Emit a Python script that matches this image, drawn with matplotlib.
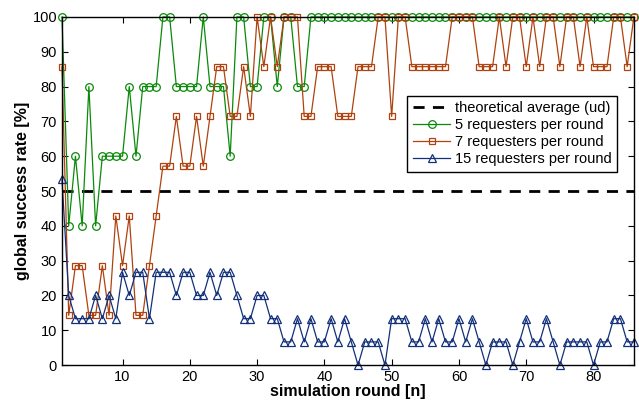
import matplotlib.pyplot as plt
import numpy as np

plt.rcParams['font.family'] = ['Liberation Sans', 'DejaVu Sans']

rounds = np.arange(1, 87)

# success rate with 5 requesters per round (k/5)
req5 = [100, 40, 60, 40, 80, 40, 60, 60, 60, 60,
        80, 60, 80, 80, 80, 100, 100, 80, 80, 80,
        80, 100, 80, 80, 80, 60, 100, 100, 80, 80,
        100, 100, 80, 100, 100, 80, 80] + [100] * 49

# success rate with 7 requesters per round (k/7)
k7 = [6, 1, 2, 2, 1, 1, 2, 1, 3, 2,
      3, 1, 1, 2, 3, 4, 4, 5, 4, 4,
      5, 4, 5, 6, 6, 5, 5, 6, 5, 7,
      6, 7, 6, 7, 7, 7, 5, 5, 6, 6,
      6, 5, 5, 5, 6, 6, 6, 7, 7, 5,
      7, 7, 6, 6, 6, 6, 6, 6, 7, 7,
      7, 7, 6, 6, 6, 7, 6, 7, 7, 6,
      7, 6, 7, 7, 6, 7, 7, 6, 7, 6,
      6, 6, 7, 7, 6, 7]
req7 = [k * 100 / 7 for k in k7]

# success rate with 15 requesters per round (k/15)
k15 = [8, 3, 2, 2, 2, 3, 2, 3, 2, 4,
       3, 4, 4, 2, 4, 4, 4, 3, 4, 4,
       3, 3, 4, 3, 4, 4, 3, 2, 2, 3,
       3, 2, 2, 1, 1, 2, 1, 2, 1, 1,
       2, 1, 2, 1, 0, 1, 1, 1, 0, 2,
       2, 2, 1, 1, 2, 1, 2, 1, 1, 2,
       1, 2, 1, 0, 1, 1, 1, 0, 1, 2,
       1, 1, 2, 1, 0, 1, 1, 1, 1, 0,
       1, 1, 2, 2, 1, 1]
req15 = [k * 100 / 15 for k in k15]

theory = 50

fig = plt.figure(figsize=(6.39, 4.03), dpi=100)
ax = fig.add_axes([0.097, 0.094, 0.895, 0.864])

ax.axhline(theory, color='black', lw=2.0, ls=(0, (4, 3)), label='theoretical average (ud)')
ax.plot(rounds, req5, color='#0a8a0a', lw=0.9, marker='o', ms=5.5, mfc='none', mew=0.9,
        label='5 requesters per round', clip_on=False)
ax.plot(rounds, req7, color='#b0420f', lw=0.9, marker='s', ms=5, mfc='none', mew=0.9,
        label='7 requesters per round', clip_on=False)
ax.plot(rounds, req15, color='#12307a', lw=0.9, marker='^', ms=6, mfc='none', mew=0.9,
        label='15 requesters per round', clip_on=False)

ax.set_xlim(1, 86)
ax.set_ylim(0, 100)
ax.set_xticks(np.arange(10, 81, 10))
ax.set_yticks(np.arange(0, 101, 10))
ax.tick_params(direction='in', top=True, right=True, labelsize=10.5, length=4, width=0.8)
for s in ax.spines.values():
    s.set_linewidth(1.0)

ax.set_xlabel('simulation round [n]', fontsize=11.5, fontweight='bold', labelpad=0)
ax.set_ylabel('global success rate [%]', fontsize=11.5, fontweight='bold', labelpad=2)

leg = ax.legend(loc='upper right', bbox_to_anchor=(0.984, 0.795), fontsize=10.5,
                fancybox=False, framealpha=1, edgecolor='black', borderpad=0.4,
                labelspacing=0.2, handlelength=2.6, handletextpad=0.3)
leg.get_frame().set_linewidth(1.0)

fig.savefig('out.png', dpi=100)
